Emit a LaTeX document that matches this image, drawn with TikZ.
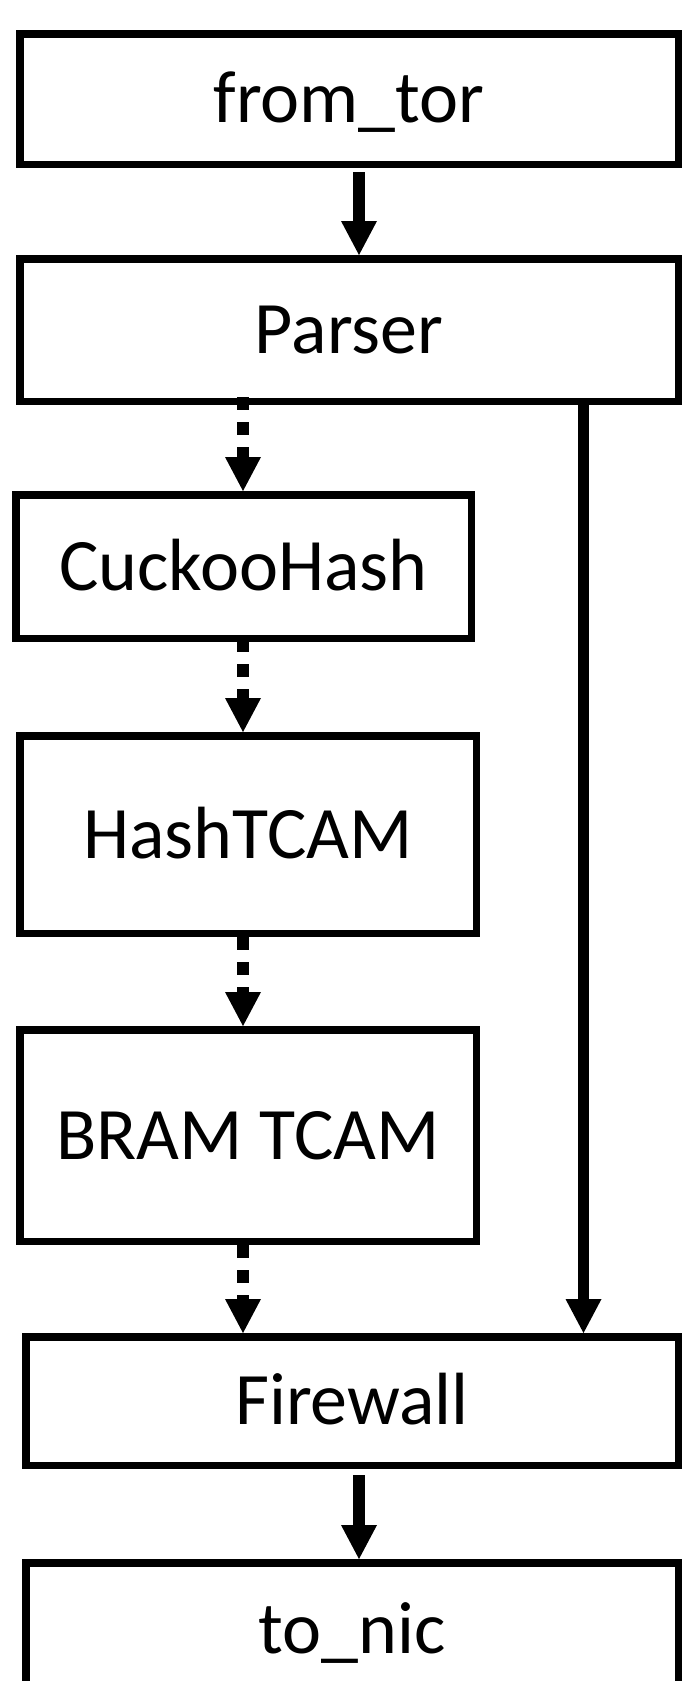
\documentclass[tikz,border=0pt]{standalone}
\usepackage{fontspec}
\setmainfont{Carlito}
\usetikzlibrary{arrows.meta}
\tikzset{
  box/.style={draw, line width=7.5pt, inner sep=0pt,
    font=\fontsize{74}{88}\selectfont, text height=47pt, text depth=0pt},
  flow/.style={line width=12pt, -{Triangle[width=36pt,length=34pt,line width=0pt]}},
  dflow/.style={flow, dash pattern=on 12.5pt off 12.5pt},
}
\begin{document}
\begin{tikzpicture}[x=1pt,y=1pt]
\useasboundingbox (0,0) rectangle (682,-1681);
\clip (0,0) rectangle (682,-1681);
\fill[white] (0,0) rectangle (682,-1681);
\node[box, minimum width=658.5pt, minimum height=130.5pt] (ft) at (349,-99) {from\_tor};
\node[box, minimum width=658.5pt, minimum height=142.5pt] (parser) at (349,-330) {Parser};
\node[box, minimum width=455.5pt, minimum height=143.5pt] (cuckoo) at (243.5,-566.5) {CuckooHash};
\node[box, minimum width=456.5pt, minimum height=197.5pt] (htcam) at (248,-834.5) {HashTCAM};
\node[box, minimum width=456.5pt, minimum height=211.5pt] (bram) at (248,-1135.5) {BRAM TCAM};
\node[box, minimum width=652.5pt, minimum height=128.5pt] (fw) at (352,-1401) {Firewall};
\node[box, minimum width=652.5pt, minimum height=134.5pt] (nic) at (352,-1630) {to\_nic};
\coordinate (colA) at (359,0);
\coordinate (colB) at (243,0);
\coordinate (colC) at (583.5,0);
\draw[flow, shorten <=4pt] (ft.south -| colA) -- (parser.north -| colA);
\draw[dflow, shorten <=-8pt] (parser.south -| colB) -- (cuckoo.north -| colB);
\draw[dflow, shorten <=-3pt] (cuckoo.south -| colB) -- (htcam.north -| colB);
\draw[dflow] (htcam.south -| colB) -- (bram.north -| colB);
\draw[dflow] (bram.south -| colB) -- (fw.north -| colB);
\draw[flow, line width=11pt] (parser.south -| colC) -- (fw.north -| colC);
\draw[flow, shorten <=6pt] (fw.south -| colA) -- (nic.north -| colA);
\end{tikzpicture}
\end{document}
